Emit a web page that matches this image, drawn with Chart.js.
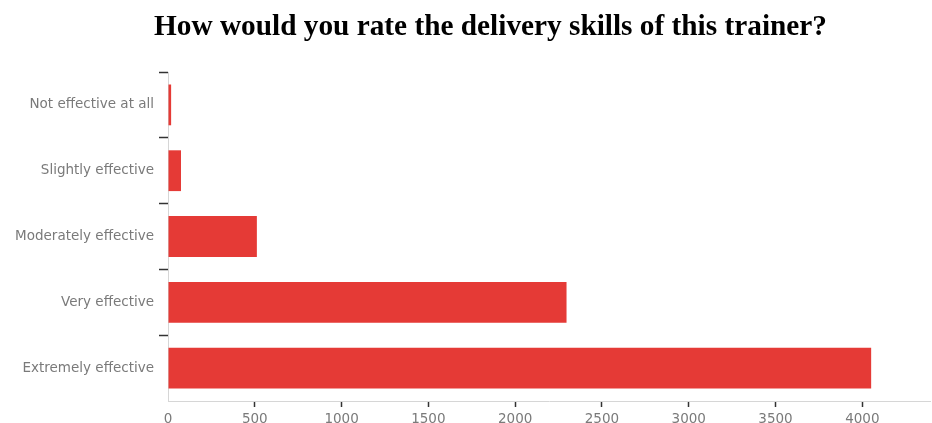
<!DOCTYPE html>
<html>
<head>
<meta charset="utf-8">
<script src="https://cdn.jsdelivr.net/npm/chart.js@4/dist/chart.umd.min.js"></script>
<style>
  html, body { margin: 0; padding: 0; background: #fff; }
  #wrap { position: relative; width: 932px; height: 423px; }
  #title {
    position: absolute; left: 0; top: 9px; width: 981px; text-align: center;
    font: bold 29.3px "Liberation Serif", "Times New Roman", serif; color: #000;
  }
  canvas { position: absolute; left: 0; top: 0; }
</style>
</head>
<body>
<div id="wrap">
  <canvas id="chart" width="932" height="423"></canvas>
  <div id="title">How would you rate the delivery skills of this trainer?</div>
</div>
<script>
const categories = ["Not effective at all", "Slightly effective", "Moderately effective", "Very effective", "Extremely effective"];
const counts = [18, 75, 512, 2296, 4051];
const xTicks = [0, 500, 1000, 1500, 2000, 2500, 3000, 3500, 4000];

const RED = "#e53a36";
const labelFont = { family: "DejaVu Sans", size: 13.5 };
const CLEAR = "rgba(0,0,0,0)";

new Chart(document.getElementById("chart"), {
  type: "bar",
  data: {
    labels: categories,
    datasets: [{
      data: counts,
      backgroundColor: RED,
      borderWidth: 0,
      barPercentage: 0.62,
      categoryPercentage: 1
    }]
  },
  options: {
    indexAxis: "y",
    responsive: false,
    animation: false,
    layout: { padding: { top: 72, right: 2, left: 0, bottom: 0 } },
    plugins: { legend: { display: false }, tooltip: { enabled: false } },
    scales: {
      x: {
        min: 0,
        max: 4390,
        afterBuildTicks: (scale) => { scale.ticks = xTicks.map(v => ({ value: v })); },
        afterFit: (scale) => { scale.height = 22; },
        border: { color: "#d6d6d6", width: 1 },
        grid: {
          drawOnChartArea: false,
          tickLength: 6,
          tickWidth: 1.5,
          // no tick mark under the zero label
          tickColor: (ctx) => (ctx.tick && ctx.tick.value === 0) ? CLEAR : "#333"
        },
        ticks: { color: "#7a7a7a", font: labelFont, padding: 4, maxRotation: 0, callback: (v) => String(v) }
      },
      y: {
        afterFit: (scale) => { scale.width = 168; },
        border: { color: "#d6d6d6", width: 1 },
        grid: {
          offset: true,
          drawOnChartArea: false,
          tickLength: 9,
          tickWidth: 1.5,
          // the closing boundary line below the last category gets no tick
          tickColor: (ctx) => ctx.tick ? "#333" : CLEAR
        },
        ticks: { color: "#7a7a7a", font: labelFont, padding: 5 }
      }
    }
  }
});
</script>
</body>
</html>
